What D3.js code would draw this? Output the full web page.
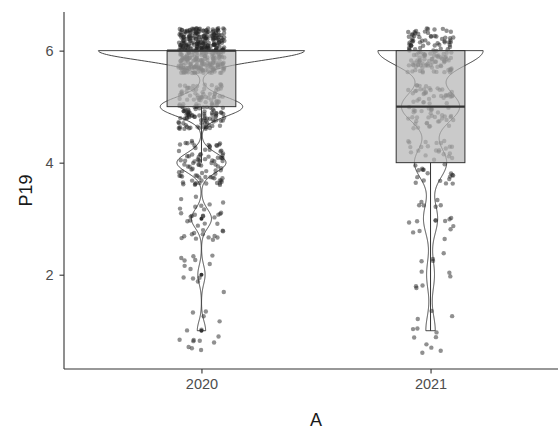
<!DOCTYPE html>
<html lang="en">
<head>
<meta charset="utf-8">
<title>P19 by A</title>
<style>
  body { margin: 0; background: #fff; }
  text { font-family: "Liberation Sans", Arial, sans-serif; }
</style>
</head>
<body>
<svg id="chart" width="558" height="432"></svg>
<script src="https://cdn.jsdelivr.net/npm/d3@7"></script>
<script>
// answers to P19 (1..6) and how many respondents gave each, per year of A
const years = ["2020", "2021"];
const answers = [1, 2, 3, 4, 5, 6];
const counts2020 = [15, 13, 36, 88, 148, 370];
const counts2021 = [12, 10, 18, 41, 74, 134];
const yTicks = [2, 4, 6];

// violin smoothing (one bandwidth per year) and jitter amounts
const bandwidths = [0.17, 0.28];
const jitterW = 0.1, jitterH = 0.4;

const svg = d3.select("#chart");
const panel = {left: 64, right: 568, top: 12, bottom: 369};

// small seeded generator so the jitter is the same on every run
function mulberry32(a) {
    return function() {
        a |= 0; a = a + 0x6D2B79F5 | 0;
        let t = Math.imul(a ^ a >>> 15, 1 | a);
        t = t + Math.imul(t ^ t >>> 7, 61 | t) ^ t;
        return ((t ^ t >>> 14) >>> 0) / 4294967296;
    };
}
const rand = mulberry32(2021);

const x = d3.scalePoint()
    .domain(years)
    .range([panel.left, panel.right])
    .padding(0.6);
const step = x.step();

const groups = years.map((year, gi) => {
    const counts = gi === 0 ? counts2020 : counts2021;
    const values = [];
    answers.forEach((a, i) => { for (let k = 0; k < counts[i]; k++) values.push(a); });
    values.sort(d3.ascending);
    const n = values.length;
    const bw = bandwidths[gi];
    const lo = d3.min(values), hi = d3.max(values);
    const dens = d3.range(512).map(i => {
        const y = lo + (hi - lo) * i / 511;
        let s = 0;
        answers.forEach((a, j) => {
            const z = (y - a) / bw;
            s += counts[j] * Math.exp(-0.5 * z * z);
        });
        return {y, d: s / (n * bw * Math.sqrt(2 * Math.PI))};
    });
    const q1 = d3.quantileSorted(values, 0.25);
    const med = d3.quantileSorted(values, 0.5);
    const q3 = d3.quantileSorted(values, 0.75);
    const iqr = q3 - q1;
    const wLo = d3.min(values.filter(v => v >= q1 - 1.5 * iqr));
    const wHi = d3.max(values.filter(v => v <= q3 + 1.5 * iqr));
    const outliers = Array.from(new Set(values.filter(v => v < wLo || v > wHi)));
    const pts = values.map(v => ({
        x: (rand() * 2 - 1) * jitterW,
        y: v + (rand() * 2 - 1) * jitterH
    }));
    return {year, values, dens, q1, med, q3, wLo, wHi, outliers, pts};
});

// y range as ggplot: extent of everything drawn, expanded 5%
const allY = groups.flatMap(g => g.pts.map(p => p.y).concat([g.values[0]]));
const [ymin, ymax] = d3.extent(allY);
const pad = (ymax - ymin) * 0.05;
const y = d3.scaleLinear()
    .domain([ymin - pad, ymax + pad])
    .range([panel.bottom, panel.top]);

const maxDens = d3.max(groups, g => d3.max(g.dens, d => d.d));

// violins
const line = d3.line().x(d => d[0]).y(d => d[1]);
svg.append("g")
    .selectAll("path")
    .data(groups)
    .join("path")
        .attr("d", g => {
            const cx = x(g.year);
            const w = d => 0.45 * step * d.d / maxDens;
            const right = g.dens.map(d => [cx + w(d), y(d.y)]);
            const left = g.dens.slice().reverse().map(d => [cx - w(d), y(d.y)]);
            return line(right.concat(left)) + "Z";
        })
        .attr("fill", "none")
        .attr("stroke", "#333")
        .attr("stroke-width", 0.9);

// jittered points
svg.append("g")
    .selectAll("g")
    .data(groups)
    .join("g")
    .selectAll("circle")
    .data(g => g.pts.map(p => ({cx: x(g.year) + p.x * step, cy: y(p.y)})))
    .join("circle")
        .attr("cx", d => d.cx)
        .attr("cy", d => d.cy)
        .attr("r", 2.2)
        .attr("fill", "#222")
        .attr("fill-opacity", 0.5);

// boxplots
const box = svg.append("g");
const bw2 = 0.3 * step / 2;
box.selectAll("line.whisker")
    .data(groups.flatMap(g => [[g, g.wLo, g.q1], [g, g.q3, g.wHi]]).filter(d => d[1] !== d[2]))
    .join("line")
        .attr("class", "whisker")
        .attr("x1", d => x(d[0].year))
        .attr("x2", d => x(d[0].year))
        .attr("y1", d => y(d[1]))
        .attr("y2", d => y(d[2]))
        .attr("stroke", "#333")
        .attr("stroke-width", 1);
box.selectAll("rect")
    .data(groups)
    .join("rect")
        .attr("x", g => x(g.year) - bw2)
        .attr("width", bw2 * 2)
        .attr("y", g => y(g.q3))
        .attr("height", g => y(g.q1) - y(g.q3))
        .attr("fill", "#b3b3b3")
        .attr("fill-opacity", 0.7)
        .attr("stroke", "#333")
        .attr("stroke-width", 1);
box.selectAll("line.median")
    .data(groups)
    .join("line")
        .attr("class", "median")
        .attr("x1", g => x(g.year) - bw2)
        .attr("x2", g => x(g.year) + bw2)
        .attr("y1", g => y(g.med))
        .attr("y2", g => y(g.med))
        .attr("stroke", "#333")
        .attr("stroke-width", 2.2);
box.selectAll("circle")
    .data(groups.flatMap(g => g.outliers.map(v => ({cx: x(g.year), cy: y(v)}))))
    .join("circle")
        .attr("cx", d => d.cx)
        .attr("cy", d => d.cy)
        .attr("r", 2)
        .attr("fill", "#333");

// axes
const xAxis = svg.append("g")
    .attr("transform", `translate(0,${panel.bottom})`)
    .call(d3.axisBottom(x).tickSize(4.5).tickPadding(5));
const yAxis = svg.append("g")
    .attr("transform", `translate(${panel.left},0)`)
    .call(d3.axisLeft(y).tickValues(yTicks).tickFormat(d3.format("d")).tickSize(4.5).tickPadding(6));
[xAxis, yAxis].forEach(a => {
    a.select(".domain").attr("stroke", "#333").attr("stroke-width", 1.1);
    a.selectAll(".tick line").attr("stroke", "#333").attr("stroke-width", 1.1);
    a.selectAll(".tick text")
        .attr("fill", "#4d4d4d")
        .style("font-size", "14.5px")
        .style("font-family", '"Liberation Sans", Arial, sans-serif');
});
yAxis.select(".domain").attr("d", `M0,${panel.bottom}V${panel.top}`);
xAxis.select(".domain").attr("d", `M${panel.left},0H${panel.right}`);

svg.append("text")
    .attr("x", (panel.left + panel.right) / 2)
    .attr("y", 426)
    .attr("text-anchor", "middle")
    .attr("fill", "#1a1a1a")
    .style("font-size", "18px")
    .text("A");
svg.append("text")
    .attr("transform", `translate(32,${(panel.top + panel.bottom) / 2}) rotate(-90)`)
    .attr("text-anchor", "middle")
    .attr("fill", "#1a1a1a")
    .style("font-size", "18px")
    .text("P19");
</script>
</body>
</html>
